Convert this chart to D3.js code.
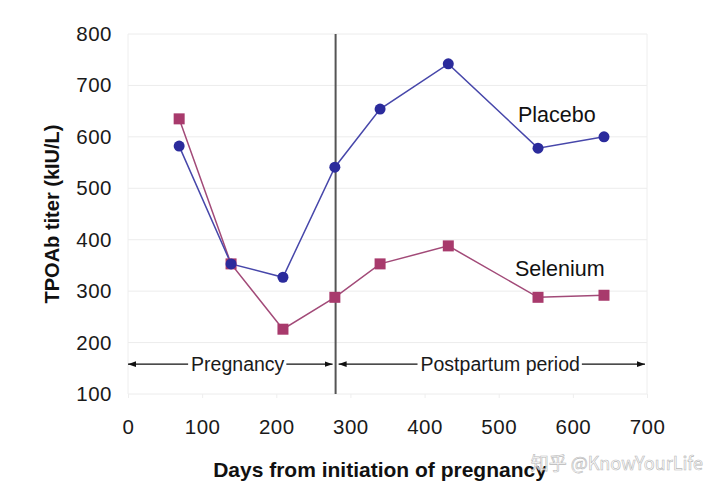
<!DOCTYPE html>
<html><head><meta charset="utf-8">
<script src="https://cdn.jsdelivr.net/npm/d3@7"></script>
<style>body{margin:0;background:#fff;font-family:Arial,"Liberation Sans",sans-serif;}</style>
</head><body>
<svg id="c" width="720" height="493"></svg>
<script>
const days = [69, 139, 209, 279, 340, 432, 553, 642];
const placebo = [582, 353, 327, 541, 654, 742, 578, 600];
const selenium = [635, 353, 226, 288, 353, 388, 288, 292];
const xTicks = [0, 100, 200, 300, 400, 500, 600, 700];
const yTicks = [100, 200, 300, 400, 500, 600, 700, 800];
const deliveryDay = 280;
const periods = [{label: "Pregnancy", from: 0, to: 280, mid: 148}, {label: "Postpartum period", from: 280, to: 700, mid: 502}];
const periodLevel = 158;

const svg = d3.select("#c");
const x = d3.scaleLinear().domain([0, 700]).range([128, 647]);
const y = d3.scaleLinear().domain([100, 800]).range([394, 34]);

// defs arrowheads
const defs = svg.append("defs");
defs.append("marker").attr("id", "arr-end").attr("viewBox", "0 0 10 10")
  .attr("refX", 10).attr("refY", 5)
  .attr("markerWidth", 8).attr("markerHeight", 8).attr("markerUnits", "userSpaceOnUse")
  .attr("orient", "auto")
  .append("path").attr("d", "M0,1.5L10,5L0,8.5Z").attr("fill", "#111");

// gridlines
svg.append("g").selectAll("line").data(yTicks).join("line")
  .attr("x1", x(0)).attr("x2", x(700)).attr("y1", d => y(d)).attr("y2", d => y(d))
  .attr("stroke", "#ececec").attr("stroke-width", 1);
// faint frame sides
svg.append("line").attr("x1", x(0)).attr("x2", x(0)).attr("y1", y(800)).attr("y2", y(100)).attr("stroke", "#eeeeee");
svg.append("line").attr("x1", x(700)).attr("x2", x(700)).attr("y1", y(800)).attr("y2", y(100)).attr("stroke", "#eeeeee");

const tickFont = sel => sel.attr("font-size", 20.5).attr("letter-spacing", 0.5).attr("fill", "#1a1a1a")
  .attr("font-family", "Arial, Liberation Sans, sans-serif");

// axes
const xAxis = svg.append("g").attr("transform", `translate(0,${y(100)})`)
  .call(d3.axisBottom(x).tickValues(xTicks).tickSize(4).tickPadding(21));
xAxis.select(".domain").remove();
xAxis.selectAll("line").attr("stroke", "#eeeeee");
xAxis.selectAll("text").call(tickFont);

const yAxis = svg.append("g").attr("transform", `translate(${x(0)},0)`)
  .call(d3.axisLeft(y).tickValues(yTicks).tickSize(0).tickPadding(16));
yAxis.select(".domain").remove();
yAxis.selectAll("text").call(tickFont);

// delivery line
svg.append("line").attr("x1", x(deliveryDay)).attr("x2", x(deliveryDay))
  .attr("y1", y(800)).attr("y2", y(100)).attr("stroke", "#555").attr("stroke-width", 2);

// period arrows
const gp = svg.append("g");
periods.forEach(p => {
  const x0 = x(p.from) + (p.from === deliveryDay ? 3 : 0);
  const x1 = x(p.to) - (p.to === deliveryDay ? 3 : 2);
  const cx = x(p.mid);
  const t = gp.append("text").attr("x", cx).attr("y", y(periodLevel)).attr("dy", "0.35em")
    .attr("text-anchor", "middle").attr("font-size", 19.5).attr("fill", "#1a1a1a").text(p.label);
  const w = t.node().getComputedTextLength();
  gp.append("line").attr("x1", cx - w / 2 - 3).attr("x2", x0).attr("y1", y(periodLevel)).attr("y2", y(periodLevel))
    .attr("stroke", "#111").attr("stroke-width", 1.3).attr("marker-end", "url(#arr-end)");
  gp.append("line").attr("x1", cx + w / 2 + 2).attr("x2", x1).attr("y1", y(periodLevel)).attr("y2", y(periodLevel))
    .attr("stroke", "#111").attr("stroke-width", 1.3).attr("marker-end", "url(#arr-end)");
});

// series
const line = d3.line().x((d, i) => x(days[i])).y(d => y(d));
svg.append("path").datum(selenium).attr("d", line).attr("fill", "none").attr("stroke", "#a24a78").attr("stroke-width", 1.5);
svg.append("path").datum(placebo).attr("d", line).attr("fill", "none").attr("stroke", "#4747aa").attr("stroke-width", 1.5);

svg.append("g").selectAll("rect").data(selenium).join("rect")
  .attr("x", (d, i) => x(days[i]) - 5.5).attr("y", d => y(d) - 5.5)
  .attr("width", 11).attr("height", 11).attr("fill", "#a83a6c");
svg.append("g").selectAll("circle").data(placebo).join("circle")
  .attr("cx", (d, i) => x(days[i])).attr("cy", d => y(d)).attr("r", 5.5).attr("fill", "#2b2b9c");

// series labels
svg.append("text").attr("x", 518).attr("y", 122).attr("font-size", 21.5).attr("fill", "#111").text("Placebo");
svg.append("text").attr("x", 515).attr("y", 276).attr("font-size", 21.5).attr("fill", "#111").text("Selenium");

// axis titles
svg.append("text").attr("transform", `translate(59,${(y(800) + y(100)) / 2}) rotate(-90)`)
  .attr("text-anchor", "middle").attr("font-size", 20).attr("font-weight", "bold").attr("fill", "#111")
  .text("TPOAb titer (kIU/L)");
svg.append("text").attr("x", 380).attr("y", 477).attr("text-anchor", "middle")
  .attr("font-size", 21).attr("font-weight", "bold").attr("fill", "#111")
  .text("Days from initiation of pregnancy");

// watermark
svg.append("text").attr("x", 703).attr("y", 470).attr("text-anchor", "end")
  .attr("font-size", 18).attr("fill", "#ffffff").attr("fill-opacity", 0.75)
  .attr("stroke", "#b8b8b8").attr("stroke-width", 0.6)
  .attr("font-family", "Noto Sans CJK SC, sans-serif").text("知乎 @KnowYourLife");
</script>
</body></html>
